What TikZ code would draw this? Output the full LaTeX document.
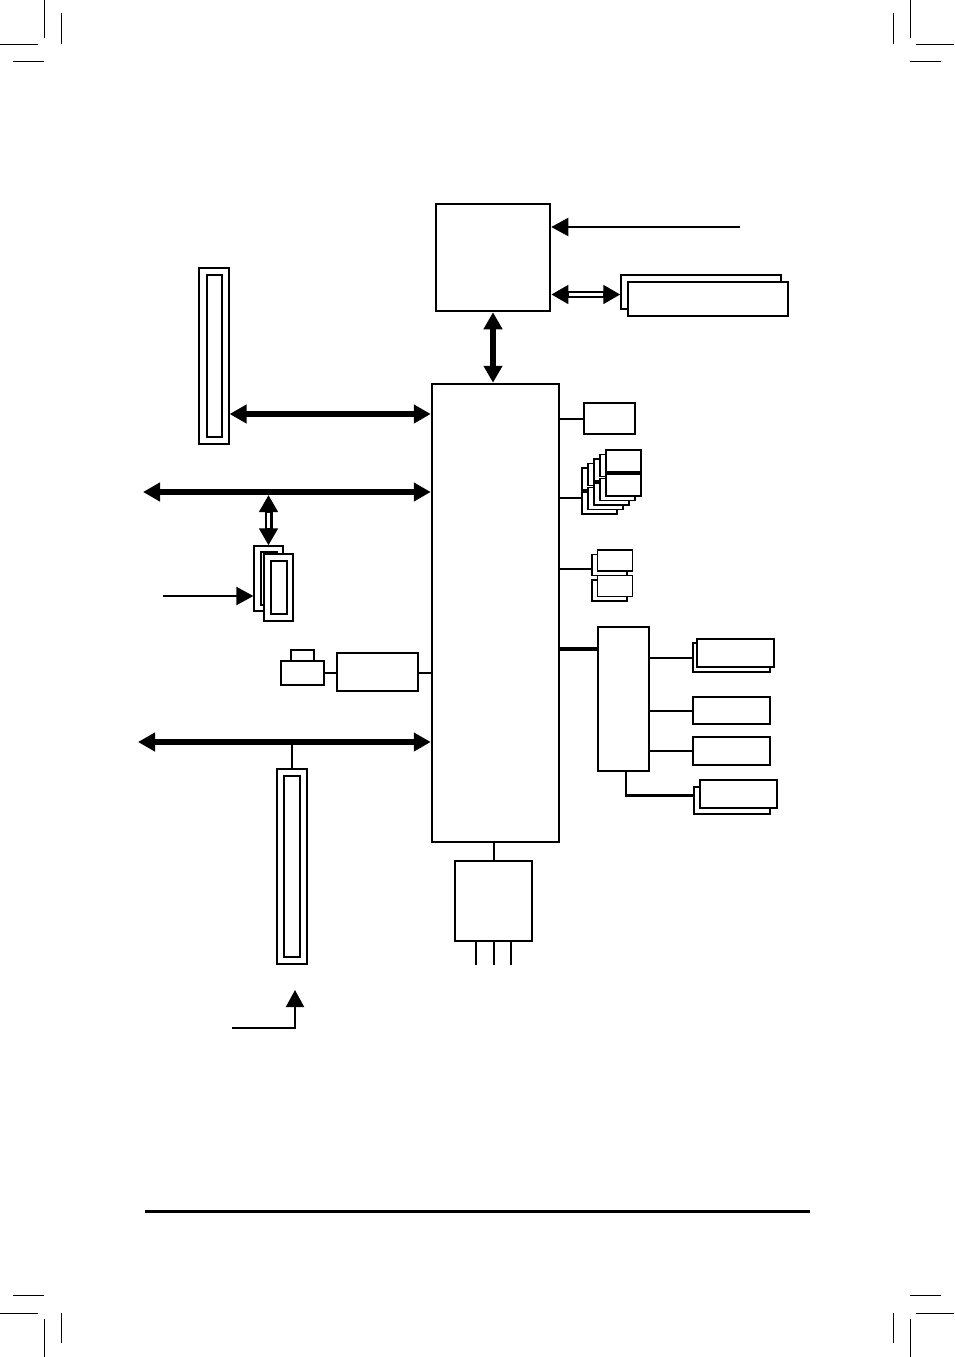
\documentclass[tikz,border=0pt]{standalone}
\usetikzlibrary{arrows.meta,calc}
\begin{document}
\begin{tikzpicture}[x=1pt,y=-1pt,
	>={Triangle[length=17pt,width=18pt]},
	bx/.style={rectangle, draw, fill=white, line width=1.3pt, inner sep=0pt},
	bxk/.style={bx, line width=2.5pt},
	sm/.style={bx, minimum width=35pt, minimum height=21pt},
	ln/.style={line width=2pt},
	bus/.style={line width=5.5pt, <->},
	arr/.style={line width=2pt, ->},
	dbl/.style={white, line width=2.5pt, shorten <=17.5pt, shorten >=17.5pt},
	crop/.style={line width=0.9pt}]
	\useasboundingbox (0,0) rectangle (954,1357);
	%---------------- CROP MARKS ----------------
	\draw[crop] (0,44)--(38,44) (44,0)--(44,38) (13,61)--(44,61) (61,13)--(61,44);
	\draw[crop] (954,44)--(916,44) (910,0)--(910,38) (941,61)--(910,61) (893,13)--(893,44);
	\draw[crop] (0,1313)--(38,1313) (44,1357)--(44,1319) (13,1295)--(44,1295) (61,1343)--(61,1313);
	\draw[crop] (954,1313)--(916,1313) (910,1357)--(910,1319) (941,1295)--(910,1295) (893,1343)--(893,1313);
	\draw[line width=3pt] (145,1211)--(810,1211);
	%---------------- CPU ----------------
	\node[bxk, minimum width=114pt, minimum height=107pt] (cpu) at (493,257.5) {};
	\node[bx, line width=1.2pt, minimum width=160pt, minimum height=34pt] (memb) at (701,292) {};
	\node[bx, line width=1.2pt, minimum width=160pt, minimum height=34pt] (memf) at (708,299) {};
	\coordinate (clkin) at (740,227);
	\draw[arr] (clkin) -- (cpu.east |- clkin);
	\coordinate (memL) at (cpu.east |- 0,294.5);
	\coordinate (memR) at (memb.west |- 0,294.5);
	\draw[bus, line width=6.5pt] (memL) -- (memR);
	\draw[dbl] (memL) -- (memR);
	%---------------- CHIPSET ----------------
	\node[bxk, minimum width=127pt, minimum height=458pt] (chip) at (495.5,613) {};
	\draw[bus, line width=6pt] (cpu.south) -- (cpu.south |- chip.north);
	%---------------- LEFT ----------------
	\node[bx, line width=1.2pt, minimum width=30pt, minimum height=176pt] (pcie) at (214,356) {};
	\node[bx, line width=2pt, minimum width=15pt, minimum height=162pt] (pciein) at (214.5,356) {};
	\draw[bus] (pcie.east |- 0,414) -- (chip.west |- 0,414);
	\coordinate (pci) at (143,492);
	\draw[bus] (pci) -- (chip.west |- pci);
	\node[bx, line width=1.2pt, minimum width=29pt, minimum height=65pt] (riserb) at (268.5,578.5) {};
	\node[bx, line width=2pt, minimum width=16pt, minimum height=53pt] (riserbi) at (269,578.5) {};
	\node[bx, line width=1.2pt, minimum width=29pt, minimum height=67pt] (riserf) at (278.5,587.5) {};
	\node[bx, line width=2pt, minimum width=16pt, minimum height=53pt] (riserfi) at (279,587.5) {};
	\draw[bus, line width=8pt] ([yshift=-3pt]riserb.north |- pci) -- (riserb.north);
	\draw[dbl, line width=3pt] ([yshift=-3pt]riserb.north |- pci) -- (riserb.north);
	\coordinate (rin) at (163,596);
	\draw[arr] (rin) -- (riserb.west |- rin);
	\node[bx, line width=1.2pt, minimum width=23pt, minimum height=11pt] (kbtab) at (302.5,655.5) {};
	\node[bx, line width=1.2pt, minimum width=43pt, minimum height=24pt] (kb) at (302.5,673) {};
	\node[bx, minimum width=81pt, minimum height=38pt] (kbc) at (377.5,672) {};
	\draw[ln] (kb.east) -- (kbc.west |- kb.east);
	\draw[ln] (kbc.east |- kb.east) -- (chip.west |- kb.east);
	\coordinate (lpc) at (138,742);
	\draw[bus] (lpc) -- (chip.west |- lpc);
	\node[bx, line width=1.2pt, minimum width=30pt, minimum height=195pt] (slot) at (292,866.5) {};
	\node[bx, line width=2pt, minimum width=16pt, minimum height=181pt] (slotin) at (292,866.5) {};
	\draw[ln] (slot.north) -- (slot.north |- lpc);
	\coordinate (pwr) at (232,1028);
	\coordinate (pwrtip) at (295,990);
	\draw[arr] (pwr) -| (pwrtip);
	%---------------- RIGHT ----------------
	\node[bx, minimum width=51pt, minimum height=31pt] (ra) at (609.5,418.5) {};
	\draw[ln] (chip.east |- ra.west) -- (ra.west);
	\foreach \i in {4,3,2,1,0}
		\node[sm, minimum height=22pt] (ua\i) at ({623.5-6*\i},{461+4.5*\i}) {};
	\foreach \i in {4,3,2,1,0}
		\node[sm, minimum height=22pt] (ub\i) at ({623.5-6*\i},{485+4.5*\i}) {};
	\coordinate (ubin) at ($(ub4.north west)!.3!(ub4.south west)$);
	\draw[ln] (chip.east |- ubin) -- (ubin);
	\node[sm] (va1) at (609.5,565) {};
	\node[sm] (va0) at (615,560.5) {};
	\node[sm] (vb1) at (609.5,590.5) {};
	\node[sm] (vb0) at (615,586) {};
	\draw[ln] (chip.east |- 0,569) -- (va1.west |- 0,569);
	%---------------- SUPER I/O ----------------
	\node[bx, minimum width=51pt, minimum height=144pt] (sio) at (623.5,699) {};
	\draw[line width=3.5pt] (chip.east |- 0,649) -- (sio.west |- 0,649);
	\node[bx, minimum width=77pt, minimum height=29pt] (sa1) at (731.5,657.5) {};
	\node[bx, minimum width=77pt, minimum height=28pt] (sa0) at (735.5,653) {};
	\node[bx, minimum width=77pt, minimum height=27pt] (sb) at (731.5,710.5) {};
	\node[bx, minimum width=77pt, minimum height=28pt] (sc) at (731.5,751) {};
	\node[bx, minimum width=76pt, minimum height=27pt] (sd1) at (732,800.5) {};
	\node[bx, minimum width=77pt, minimum height=28pt] (sd0) at (738.5,794) {};
	\draw[ln] (sio.east |- sa1.west) -- (sa1.west);
	\draw[ln] (sio.east |- sb.west) -- (sb.west);
	\draw[ln] (sio.east |- sc.west) -- (sc.west);
	\draw[ln, line width=2.5pt] (sio.south -| 626,0) |- ($(sd1.north west)!.33!(sd1.south west)$);
	%---------------- LAN ----------------
	\node[bx, minimum width=77pt, minimum height=80pt] (lan) at (493.5,901) {};
	\draw[ln] (lan.north) -- (lan.north |- chip.south);
	\foreach \x [count=\n] in {476,494,511} {
		\coordinate (leg\n) at (\x,965);
		\draw[ln] (leg\n |- lan.south) -- (leg\n);
	}
\end{tikzpicture}
\end{document}
